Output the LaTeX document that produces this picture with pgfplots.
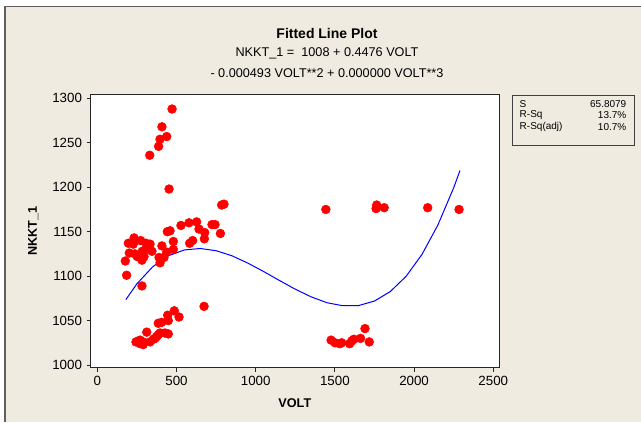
\documentclass[border=0pt]{standalone}
\usepackage{fontspec}
\setmainfont{Liberation Sans}
\usepackage{pgfplots}
\usepackage{pgfplotstable}
\pgfplotsset{compat=1.18}
\definecolor{panel}{RGB}{239,235,225}
\definecolor{frameline}{RGB}{95,95,95}

% observed NKKT_1 against VOLT
\pgfplotstableread{
x y
472 1288
408 1268
438 1257
396 1254
387 1246
331 1236
453 1198
785 1180
800 1181
528 1157
579 1160
627 1161
642 1153
678 1149
676 1142
724 1158
743 1158
777 1148
442 1150
459 1151
480 1139
480 1130
408 1134
438 1127
583 1137
602 1140
232 1143
196 1137
227 1136
274 1140
307 1137
333 1136
202 1126
238 1125
252 1122
282 1118
295 1122
345 1128
307 1130
284 1128
177 1117
185 1101
390 1121
421 1121
396 1115
282 1089
674 1066
486 1061
516 1054
444 1056
448 1050
385 1047
406 1048
312 1037
396 1036
427 1036
448 1035
375 1032
364 1030
354 1029
333 1026
290 1026
259 1027
244 1026
270 1024
290 1023
270 1028
385 1034
1443 1175
1764 1180
1760 1176
1811 1177
2086 1177
2284 1175
1476 1028
1501 1025
1530 1024
1543 1025
1593 1024
1606 1027
1620 1029
1662 1030
1690 1041
1717 1026
}\obs

% fitted cubic
\pgfplotstableread{
x y
180 1073.5
250 1091.4
350 1110.6
450 1123.0
550 1129.5
650 1131.1
750 1128.6
850 1122.9
950 1114.7
1050 1105.2
1150 1095.1
1250 1085.3
1350 1076.7
1450 1070.1
1550 1066.7
1650 1066.9
1750 1072.0
1850 1082.7
1950 1099.9
2050 1124.5
2150 1157.4
2250 1199.4
2290 1219.0
}\fit

\begin{document}
\begin{tikzpicture}[x=0.75pt,y=0.75pt]
\useasboundingbox (0,0) rectangle (641,422);
\fill[white] (0,0) rectangle (641,422);
\fill[panel] (5,0) rectangle (641,415.5);
\draw[frameline,line width=1.2pt] (5,0) -- (5,415.5) -- (641,415.5);

\node[font=\bfseries\fontsize{10.5}{12}\selectfont] at (327,389) {Fitted Line Plot};
\node[font=\fontsize{9.5}{11}\selectfont] at (327,369) {NKKT\_1 = \ 1008 + 0.4476 VOLT};
\node[font=\fontsize{9.5}{11}\selectfont] at (327,349) {- 0.000493 VOLT**2 + 0.000000 VOLT**3};

\begin{axis}[
    at={(68.03pt,40.73pt)}, anchor=south west,
    scale only axis,
    width=306.2pt, height=205pt,
    xmin=-41.7, xmax=2536,
    ymin=997, ymax=1304.5,
    xtick={0,500,1000,1500,2000,2500},
    ytick={1000,1050,1100,1150,1200,1250,1300},
    xtick pos=lower, ytick pos=left,
    tick align=outside,
    major tick length=3pt,
    scaled ticks=false,
    /pgf/number format/.cd, set thousands separator={}, assume math mode=true,
    /pgfplots/.cd,
    tick label style={font=\fontsize{10}{12}\selectfont},
    axis background/.style={fill=white},
    axis line style={black!85, line width=0.6pt},
    tick style={black!85, line width=0.6pt},
    xlabel={\textbf{VOLT}},
    ylabel={\textbf{NKKT\_1}},
    label style={font=\fontsize{9.5}{11}\selectfont},
    xlabel style={at={(axis description cs:0.5,0)}, anchor=center, yshift=-26.3pt},
    ylabel style={at={(axis description cs:0,0.5)}, anchor=center, yshift=43pt},
]
\addplot[only marks, mark=*, mark size=3.3pt, color=red, mark options={draw=red, fill=red}] table {\obs};
\addplot[blue, line width=0.75pt, no markers] table {\fit};
\end{axis}

\draw[black!75, line width=0.6pt] (512,277) rectangle (634,327);
\begin{scope}[font=\fontsize{7.5}{9}\selectfont]
\node[anchor=west] at (515,318) {S};
\node[anchor=east] at (631,318) {65.8079};
\node[anchor=west] at (515,306.5) {R-Sq};
\node[anchor=east] at (631,306.5) {13.7\%};
\node[anchor=west] at (515,295) {R-Sq(adj)};
\node[anchor=east] at (631,295) {10.7\%};
\end{scope}
\end{tikzpicture}
\end{document}
